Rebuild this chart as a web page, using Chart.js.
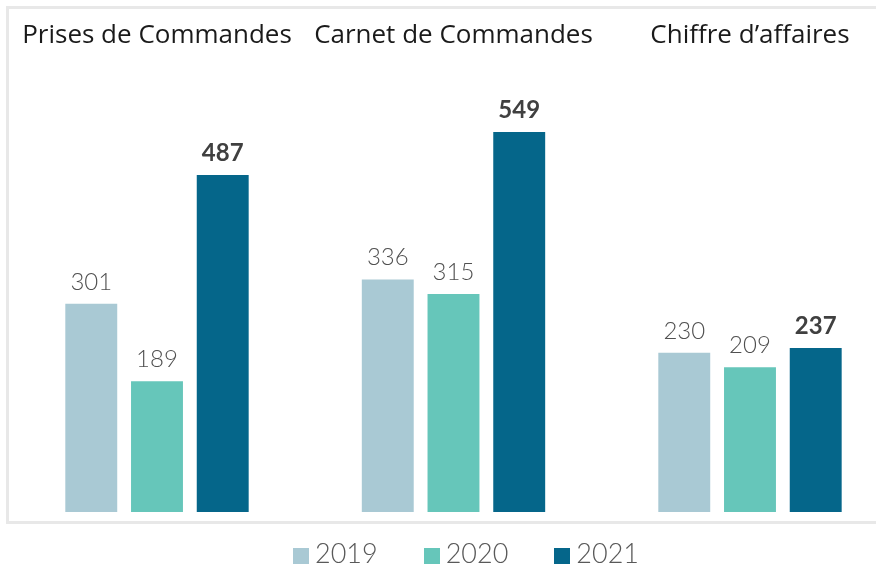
<!DOCTYPE html>
<html>
<head>
<meta charset="utf-8">
<script src="https://cdn.jsdelivr.net/npm/chart.js@4.4.0/dist/chart.umd.min.js"></script>
<style>
  body { margin: 0; background: #fff; overflow: hidden; }
  #wrap { position: relative; width: 876px; height: 565px; overflow: hidden; }
  #frame { position: absolute; left: 6px; top: 6px; width: 900px; height: 512px; border: 3px solid #e8e8e8; }
  canvas { position: absolute; left: 0; top: 0; }
  #legend { position: absolute; left: 0; top: 536px; width: 932px; display: flex; justify-content: center;
            font-family: Lato, sans-serif; font-weight: 300; font-size: 27px; color: #595959; }
  #legend .item { display: flex; align-items: center; margin: 0 23px; }
  #legend .box { width: 16px; height: 16px; margin-right: 6px; margin-top: 6px; }
</style>
</head>
<body>
<div id="wrap">
  <div id="frame"></div>
  <canvas id="chart" width="876" height="565"></canvas>
  <div id="legend"></div>
</div>
<script>
const categories = ['Prises de Commandes', 'Carnet de Commandes', 'Chiffre d\u2019affaires'];
const years = ['2019', '2020', '2021'];
const values2019 = [301, 336, 230];
const values2020 = [189, 315, 209];
const values2021 = [487, 549, 237];
const colors = ['#a9c9d4', '#66c6ba', '#05668a'];

const series = [values2019, values2020, values2021];

// value labels above each bar, last year in bold
const valueLabels = {
    id: 'valueLabels',
    afterDatasetsDraw(chart) {
        const ctx = chart.ctx;
        chart.data.datasets.forEach((ds, i) => {
            const meta = chart.getDatasetMeta(i);
            const last = i === chart.data.datasets.length - 1;
            meta.data.forEach((bar, j) => {
                ctx.save();
                ctx.font = (last ? 'bold 24px' : '300 24px') + ' Lato, sans-serif';
                ctx.fillStyle = last ? '#404040' : '#505050';
                ctx.textAlign = 'center';
                ctx.textBaseline = 'alphabetic';
                ctx.fillText(String(ds.data[j].y), bar.x, bar.y - 14);
                ctx.restore();
            });
        });
    }
};

new Chart(document.getElementById('chart'), {
    type: 'bar',
    data: {
        datasets: years.map((y, i) => ({
            label: y,
            data: series[i].map((v, j) => ({ x: j, y: v })),
            backgroundColor: colors[i],
            categoryPercentage: 0.665,
            barPercentage: 0.79
        }))
    },
    options: {
        responsive: false,
        animation: false,
        layout: { padding: { left: 0, right: 0, top: 0, bottom: 53 } },
        plugins: {
            legend: { display: false },
            tooltip: { enabled: false }
        },
        scales: {
            x: {
                type: 'linear',
                position: 'top',
                offset: false,
                min: -0.5295,
                max: 2.425,
                grid: { display: false },
                border: { display: false },
                afterBuildTicks: (scale) => {
                    scale.ticks = categories.map((c, i) => ({ value: i }));
                },
                afterFit: (scale) => { scale.height = 66; },
                ticks: {
                    autoSkip: false,
                    maxRotation: 0,
                    minRotation: 0,
                    padding: 7,
                    color: '#1a1a1a',
                    font: { family: '"Open Sans", sans-serif', size: 26 },
                    callback: (v) => categories[Math.round(v)]
                }
            },
            y: {
                display: false,
                min: 0,
                max: 644.3
            }
        }
    },
    plugins: [valueLabels]
});

// legend
const legend = document.getElementById('legend');
years.forEach((y, i) => {
    const item = document.createElement('div');
    item.className = 'item';
    item.innerHTML = '<span class="box" style="background:' + colors[i] + '"></span><span>' + y + '</span>';
    legend.appendChild(item);
});
</script>
</body>
</html>
